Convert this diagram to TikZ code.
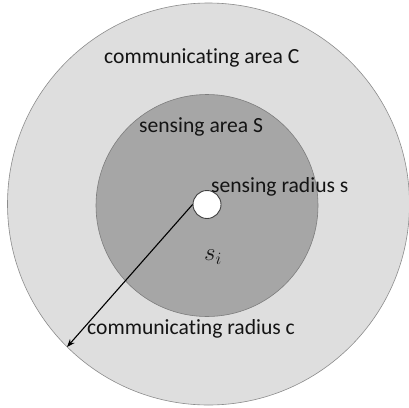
\documentclass[tikz,border=0pt]{standalone}
\usepackage{fontspec}
\setmainfont[Ligatures=NoCommon]{Carlito}
\usetikzlibrary{arrows.meta}
\definecolor{commfill}{RGB}{222,222,222}
\definecolor{commedge}{RGB}{140,140,140}
\definecolor{sensfill}{RGB}{166,166,166}
\definecolor{sensedge}{RGB}{125,125,125}
\definecolor{labeltext}{RGB}{20,20,20}
\tikzset{
  zone/.style={circle, inner sep=0pt, line width=0.6pt},
  nodedot/.style={circle, draw=black!75, fill=white, line width=0.9pt, minimum size=28pt, inner sep=0pt},
  lbl/.style={anchor=base west, inner sep=0pt, text=labeltext, font=\fontsize{21.6}{24}\selectfont},
  mathlbl/.style={anchor=base west, inner sep=0pt, text=labeltext, font=\fontsize{25}{28}\selectfont},
  radius arrow/.style={line width=1.1pt, -{Stealth[length=8pt, width=6pt]}}
}
\begin{document}
\begin{tikzpicture}[x=1pt, y=-1pt]
  \useasboundingbox (0,0) rectangle (409,407);
  \fill[white] (0,0) rectangle (409,407);
  % communicating area
  \node[zone, draw=commedge, fill=commfill, minimum size=402pt] (comm) at (208.5,204) {};
  % sensing area
  \node[zone, draw=sensedge, fill=sensfill, minimum size=222pt] (sens) at (207,205.5) {};
  % sensor node
  \node[nodedot] (si) at (207,204.5) {};
  \coordinate (cend) at (67,347);
  \draw[radius arrow] (si.west) -- (cend);
  % labels
  \node[lbl] (lc) at (104,63.3) {communicating area C};
  \node[lbl] (ls) at (139,132) {sensing area S};
  \node[lbl] (lr) at (211,192.7) {sensing radius s};
  \node[lbl] (lcr) at (87,334) {communicating radius c};
  \node[mathlbl] (lsi) at (204,260.7) {$s_i$};
\end{tikzpicture}
\end{document}
